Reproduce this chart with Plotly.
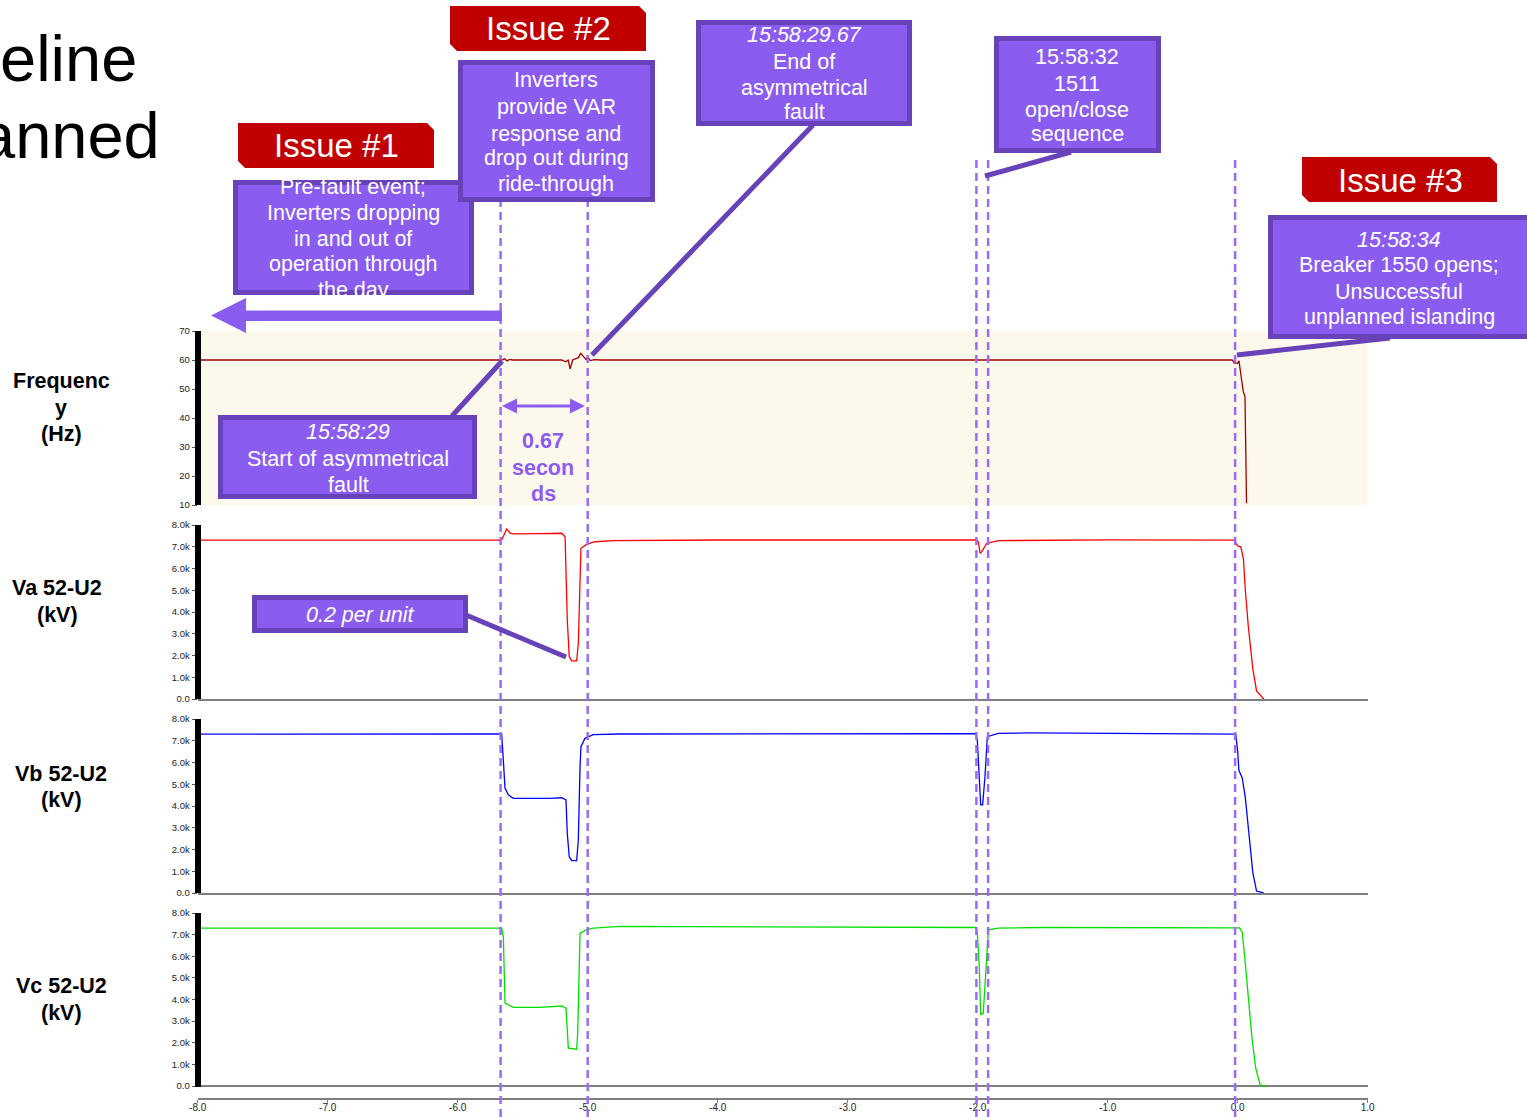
import plotly.graph_objects as go

# ---------------------------------------------------------------- data
# time axis in seconds relative to breaker 1550 opening
x_tick_vals = [-8.0, -7.0, -6.0, -5.0, -4.0, -3.0, -2.0, -1.0, 0.0, 1.0]
x_tick_text = ["-8.0", "-7.0", "-6.0", "-5.0", "-4.0", "-3.0", "-2.0", "-1.0", "0.0", "1.0"]

freq_tick_vals = [10, 20, 30, 40, 50, 60, 70]
freq_tick_text = ["10", "20", "30", "40", "50", "60", "70"]
kv_tick_vals = [0, 1, 2, 3, 4, 5, 6, 7, 8]
kv_tick_text = ["0.0", "1.0k", "2.0k", "3.0k", "4.0k", "5.0k", "6.0k", "7.0k", "8.0k"]

# event markers (s)
event_times = [-5.67, -5.0, -2.01, -1.92, -0.02]

# frequency (Hz)
freq_t = [-8.0, -5.66, -5.64, -5.62, -5.60, -5.58, -5.20, -5.17, -5.15, -5.136,
          -5.115, -5.072, -5.054, -5.034, -5.013, -5.0, -4.98, -4.95, -4.90,
          -0.042, -0.027, 0.0, 0.01, 0.023, 0.043, 0.056, 0.061, 0.068]
freq_hz = [60.0, 60.0, 60.4, 59.7, 60.2, 60.0, 60.0, 59.4, 60.0, 56.9,
           60.0, 60.8, 62.3, 61.1, 60.2, 61.0, 59.8, 60.1, 60.0,
           60.0, 58.9, 58.9, 59.7, 55.4, 49.1, 47.4, 35.9, 10.6]

# phase A voltage (kV)
va_t = [-8.0, -6.5, -5.662, -5.623, -5.597, -5.572, -5.392, -5.367, -5.2, -5.174,
        -5.157, -5.142, -5.123, -5.085, -5.072, -5.059, -5.052, -5.008, -4.944,
        -4.80, -4.0, -2.013, -1.995, -1.982, -1.969, -1.93, -1.84, -1.0,
        -0.028, 0.0, 0.024, 0.044, 0.058, 0.082, 0.116, 0.145, 0.20]
va_kv = [7.30, 7.30, 7.30, 7.82, 7.62, 7.59, 7.57, 7.60, 7.62, 7.46,
         3.63, 1.95, 1.75, 1.75, 2.56, 5.62, 6.93, 7.11, 7.23,
         7.28, 7.31, 7.31, 7.23, 6.70, 6.77, 7.16, 7.28, 7.32,
         7.30, 7.04, 7.00, 6.44, 5.06, 3.31, 1.40, 0.37, 0.0]

# phase B voltage (kV)
vb_t = [-8.0, -5.662, -5.649, -5.636, -5.61, -5.572, -5.29, -5.2, -5.167, -5.157,
        -5.142, -5.123, -5.085, -5.072, -5.059, -5.052, -5.021, -4.957, -4.75,
        -2.015, -2.003, -1.988, -1.977, -1.962, -1.944, -1.926, -1.842, -1.6,
        -0.015, 0.0, 0.009, 0.035, 0.058, 0.087, 0.116, 0.145, 0.20]
vb_kv = [7.30, 7.31, 6.11, 4.81, 4.51, 4.35, 4.35, 4.38, 4.28, 2.74,
         1.67, 1.49, 1.49, 2.44, 5.81, 6.73, 7.11, 7.28, 7.31,
         7.33, 7.03, 5.50, 4.05, 4.05, 5.35, 7.19, 7.34, 7.36,
         7.30, 6.51, 5.64, 5.29, 4.42, 2.69, 0.95, 0.09, 0.0]

# phase C voltage (kV)
vc_t = [-8.0, -5.662, -5.649, -5.636, -5.572, -5.367, -5.2, -5.167, -5.149,
        -5.085, -5.077, -5.059, -5.034, -5.013, -4.957, -4.75,
        -2.015, -2.003, -1.988, -1.977, -1.957, -1.938, -1.918, -1.842, -1.5,
        0.015, 0.035, 0.058, 0.082, 0.11, 0.139, 0.174, 0.22]
vc_kv = [7.30, 7.30, 6.91, 3.83, 3.64, 3.64, 3.70, 3.60, 1.75,
         1.70, 2.44, 7.07, 7.14, 7.22, 7.30, 7.38,
         7.33, 7.07, 5.52, 3.29, 3.37, 5.22, 7.22, 7.30, 7.33,
         7.31, 7.10, 5.70, 3.95, 2.21, 0.81, 0.02, 0.0]

# ---------------------------------------------------------------- layout helpers
W, H = 1527, 1117
FONT = "Liberation Sans, Arial, Helvetica, sans-serif"
BOX_FILL = "#8b5cf0"
BOX_EDGE = "#6842b8"
DASH_COL = "#9a6cf4"
ISSUE_RED = "#c00000"
TXT = 21.5


def px(x):
    return x / W


def py(y):
    return 1 - y / H


X_DOM = [px(197.7), px(1367.7)]

fig = go.Figure()

line_specs = [
    (freq_t, freq_hz, "x", "y", "#a00000"),
    (va_t, va_kv, "x2", "y2", "#ff0000"),
    (vb_t, vb_kv, "x3", "y3", "#0000ff"),
    (vc_t, vc_kv, "x4", "y4", "#00e000"),
]
for t, v, xa, ya, col in line_specs:
    fig.add_trace(go.Scatter(x=t, y=v, xaxis=xa, yaxis=ya, mode="lines",
                             line=dict(color=col, width=1.3),
                             showlegend=False, hoverinfo="skip"))

shapes = []
annotations = []

# cream band behind the frequency panel
shapes.append(dict(type="rect", xref="x domain", yref="y domain", x0=0, x1=1, y0=0, y1=1,
                   fillcolor="#fdf8ec", line=dict(width=0), layer="below"))

# thick black value-axis bars
for yref, lo, hi in [("y", 9.6, 70.4), ("y2", -0.05, 8.14), ("y3", -0.05, 8.14), ("y4", -0.05, 8.14)]:
    shapes.append(dict(type="line", xref="paper", yref=yref, x0=px(198), x1=px(198),
                       y0=lo, y1=hi, line=dict(color="black", width=6), layer="above"))

# dashed event markers
dash_tops = [200, 200, 155, 155, 155]
for t, top in zip(event_times, dash_tops):
    shapes.append(dict(type="line", xref="x", yref="paper", x0=t, x1=t,
                       y0=0, y1=py(top),
                       line=dict(color=DASH_COL, width=2.5, dash="8px,5px"), layer="above"))


def box(x0, y0, x1, y1):
    shapes.append(dict(type="rect", xref="paper", yref="paper",
                       x0=px(x0 + 2.5), x1=px(x1 - 2.5), y0=py(y0 + 2.5), y1=py(y1 - 2.5),
                       fillcolor=BOX_FILL, line=dict(color=BOX_EDGE, width=5), layer="above"))


def issue_tag(x0, y0, x1, y1, c=7):
    pts = [(x0, y0), (x1 - c, y0), (x1, y0 + c), (x1, y1), (x0 + c, y1), (x0, y1 - c)]
    path = "M " + " L ".join(f"{px(a):.5f},{py(b):.5f}" for a, b in pts) + " Z"
    shapes.append(dict(type="path", xref="paper", yref="paper", path=path,
                       fillcolor=ISSUE_RED, line=dict(width=0), layer="above"))


def poly(pts, color):
    path = "M " + " L ".join(f"{px(a):.5f},{py(b):.5f}" for a, b in pts) + " Z"
    shapes.append(dict(type="path", xref="paper", yref="paper", path=path,
                       fillcolor=color, line=dict(width=0), layer="above"))


def connector(xa, ya, xb, yb):
    shapes.append(dict(type="line", xref="paper", yref="paper",
                       x0=px(xa), y0=py(ya), x1=px(xb), y1=py(yb),
                       line=dict(color=BOX_EDGE, width=5), layer="above"))


def text(s, x, y, size=TXT, color="white", bold=False, xanchor="center"):
    if bold:
        s = f"<b>{s}</b>"
    annotations.append(dict(text=s, xref="paper", yref="paper", x=px(x), y=py(y),
                            xanchor=xanchor, yanchor="middle", showarrow=False,
                            font=dict(family=FONT, size=size, color=color)))


def text_lines(lines, cx, ys, **kw):
    for s, y in zip(lines, ys):
        text(s, cx, y, **kw)


# callout boxes
box(233, 180, 474, 295)
box(458, 60, 655, 202)
box(696, 20, 912, 126)
box(994, 36, 1161, 153)
box(1268, 215, 1540, 339)
box(218, 415, 477, 499)
box(252, 595, 468, 633)

# red issue tags
issue_tag(238, 123, 434, 168)
issue_tag(450, 6, 646, 51)
issue_tag(1302, 157, 1497, 202)

# leader lines
connector(813, 125, 592, 355)
connector(1071, 152, 985, 176)
connector(1390, 338, 1237, 355)
connector(452, 416, 502, 361)
connector(466, 615, 566, 657)

# arrow pointing back to the pre-fault period
poly([(502, 310.5), (246, 310.5), (246, 298), (211, 315.5), (246, 333), (246, 321), (502, 321)], BOX_FILL)

# double arrow spanning the fault duration
poly([(502, 406), (517, 398.5), (517, 404.5), (570, 404.5), (570, 398.5), (585, 406),
      (570, 413.5), (570, 407.5), (517, 407.5), (517, 413.5)], BOX_FILL)

# headline fragments at the left edge
text("eline", 139, 58, size=65, color="black", xanchor="right")
text("anned", 162, 135, size=65, color="black", xanchor="right")

# tag captions
text("Issue #1", 336, 146, size=33)
text("Issue #2", 548, 29, size=33)
text("Issue #3", 1400, 180, size=33)

# callout texts
text_lines(["Pre-fault event;", "Inverters dropping", "in and out of", "operation through", "the day"],
           353, [187, 213, 239, 264, 290])
text_lines(["Inverters", "provide VAR", "response and", "drop out during", "ride-through"],
           556, [80, 107, 134, 158, 184])
text_lines(["<i>15:58:29.67</i>", "End of", "asymmetrical", "fault"],
           804, [35, 62, 88, 112])
text_lines(["15:58:32", "1511", "open/close", "sequence"],
           1077, [57, 84, 110, 134])
text_lines(["<i>15:58:34</i>", "Breaker 1550 opens;", "Unsuccessful", "unplanned islanding"],
           1399, [240, 265, 292, 317])
text_lines(["<i>15:58:29</i>", "Start of asymmetrical", "fault"],
           348, [432, 459, 485])
text("<i>0.2 per unit</i>", 360, 615)

# fault duration label
text_lines(["0.67", "secon", "ds"], 543, [441, 468, 494], color="#8b5cf0", bold=True)

# panel titles
text_lines(["Frequenc", "y", "(Hz)"], 61, [381, 408, 434], color="black", bold=True)
text_lines(["Va 52-U2", "(kV)"], 57, [588, 615], color="black", bold=True)
text_lines(["Vb 52-U2", "(kV)"], 61, [774, 800], color="black", bold=True)
text_lines(["Vc 52-U2", "(kV)"], 61, [986, 1013], color="black", bold=True)

# ---------------------------------------------------------------- axes
common_x = dict(domain=X_DOM, range=[-8, 1], showgrid=False, zeroline=False, fixedrange=True)
hidden_x = dict(showticklabels=False, ticks="")
base_line = dict(showline=True, linecolor="#7f7f7f", linewidth=2)

common_y = dict(showgrid=False, showline=False, ticks="outside", ticklen=5,
                tickwidth=1, tickcolor="#555555", fixedrange=True,
                tickfont=dict(family=FONT, size=9.5, color="#222222"))

V_PER_PX = 8 / (1086 - 913)

fig.update_layout(
    width=W, height=H, autosize=False,
    margin=dict(l=0, r=0, t=0, b=0, pad=0, autoexpand=False),
    paper_bgcolor="white", plot_bgcolor="white",
    hovermode=False, showlegend=False,
    xaxis=dict(**common_x, **hidden_x, anchor="y"),
    xaxis2=dict(**common_x, **hidden_x, **base_line, anchor="y2", matches="x"),
    xaxis3=dict(**common_x, **hidden_x, **base_line, anchor="y3", matches="x"),
    xaxis4=dict(**common_x, **base_line, anchor="y4", matches="x",
                ticks="outside", ticklen=3, tickwidth=1, tickcolor="#7f7f7f",
                ticklabelstandoff=-4,
                tickvals=x_tick_vals, ticktext=x_tick_text,
                tickfont=dict(family=FONT, size=10, color="#222222")),
    yaxis=dict(**common_y, zeroline=False, domain=[py(505), py(331)], range=[10, 70], anchor="x",
               tickvals=freq_tick_vals, ticktext=freq_tick_text),
    yaxis2=dict(**common_y, zeroline=False, domain=[py(699), py(525)], range=[0, 8], anchor="x2",
                tickvals=kv_tick_vals, ticktext=kv_tick_text),
    yaxis3=dict(**common_y, zeroline=False, domain=[py(893), py(719)], range=[0, 8], anchor="x3",
                tickvals=kv_tick_vals, ticktext=kv_tick_text),
    yaxis4=dict(**common_y, zeroline=True, zerolinecolor="#7f7f7f", zerolinewidth=2,
                domain=[py(1098), py(913)], range=[-(1098 - 1086) * V_PER_PX, 8], anchor="x4",
                tickvals=kv_tick_vals, ticktext=kv_tick_text),
    shapes=shapes,
    annotations=annotations,
)

# the figure fills the whole page: no body margin, no scrollbars
page_css = ("var r=document.documentElement,b=document.body;"
            "r.style.margin='0';r.style.padding='0';r.style.overflow='hidden';"
            "b.style.margin='0';b.style.padding='0';b.style.overflow='hidden';"
            "window.scrollTo(0,0);")
fig.write_html("out.html", config={"displayModeBar": False}, post_script=page_css)
